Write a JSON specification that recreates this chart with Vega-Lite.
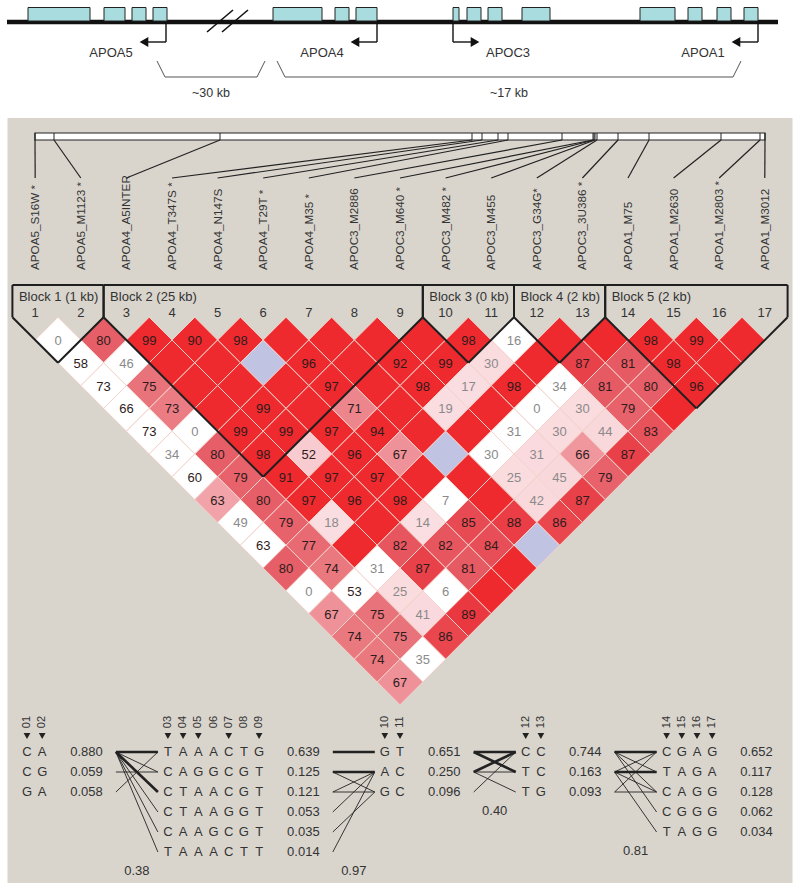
{
"$schema": "https://vega.github.io/schema/vega-lite/v6.json",
"padding": 0,
"background": "#ffffff",
"spacing": 6,
"center": true,
"config": {"view": {"stroke": null}, "text": {"font": "Liberation Sans"}},
"datasets": {
 "exons": [
  {"gene":"APOA5","start":28,"end":90},{"gene":"APOA5","start":104,"end":125},{"gene":"APOA5","start":132,"end":146},{"gene":"APOA5","start":153,"end":167},
  {"gene":"APOA4","start":273,"end":322},{"gene":"APOA4","start":335,"end":349},{"gene":"APOA4","start":356,"end":377},
  {"gene":"APOC3","start":453,"end":459},{"gene":"APOC3","start":467,"end":481},{"gene":"APOC3","start":488,"end":502},{"gene":"APOC3","start":522,"end":550},
  {"gene":"APOA1","start":640,"end":675},{"gene":"APOA1","start":688,"end":702},{"gene":"APOA1","start":717,"end":731},{"gene":"APOA1","start":744,"end":758}
 ],
 "genes": [
  {"gene":"APOA5","tss":166,"dir":-1},{"gene":"APOA4","tss":377,"dir":-1},{"gene":"APOC3","tss":453,"dir":1},{"gene":"APOA1","tss":758,"dir":-1}
 ],
 "brackets": [
  {"label":"~30 kb","from":157,"to":265},{"label":"~17 kb","from":277,"to":741}
 ],
 "markers": [
  {"m":1,"name":"APOA5_S16W *","bpos":35,"block":1,"tag":1},
  {"m":2,"name":"APOA5_M1123 *","bpos":54,"block":1,"tag":1},
  {"m":3,"name":"APOA4_A5INTER","bpos":220,"block":2,"tag":1},
  {"m":4,"name":"APOA4_T347S *","bpos":472,"block":2,"tag":1},
  {"m":5,"name":"APOA4_N147S","bpos":482,"block":2,"tag":1},
  {"m":6,"name":"APOA4_T29T *","bpos":498,"block":2,"tag":0},
  {"m":7,"name":"APOA4_M35 *","bpos":508,"block":2,"tag":1},
  {"m":8,"name":"APOC3_M2886","bpos":562,"block":2,"tag":0},
  {"m":9,"name":"APOC3_M640 *","bpos":593,"block":2,"tag":1},
  {"m":10,"name":"APOC3_M482 *","bpos":594,"block":3,"tag":1},
  {"m":11,"name":"APOC3_M455","bpos":595,"block":3,"tag":1},
  {"m":12,"name":"APOC3_G34G*","bpos":597,"block":4,"tag":1},
  {"m":13,"name":"APOC3_3U386 *","bpos":618,"block":4,"tag":1},
  {"m":14,"name":"APOA1_M75","bpos":649,"block":5,"tag":1},
  {"m":15,"name":"APOA1_M2630","bpos":721,"block":5,"tag":1},
  {"m":16,"name":"APOA1_M2803 *","bpos":760,"block":5,"tag":1},
  {"m":17,"name":"APOA1_M3012","bpos":765,"block":5,"tag":1}
 ],
 "blocks": [
  {"block":1,"first":1,"last":2,"kb":1},{"block":2,"first":3,"last":9,"kb":25},{"block":3,"first":10,"last":11,"kb":0},{"block":4,"first":12,"last":13,"kb":2},{"block":5,"first":14,"last":17,"kb":2}
 ],
 "ld": [
  {"i":1,"j":2,"v":0,"s":0},{"i":2,"j":3,"v":80,"s":1},{"i":3,"j":4,"v":99,"s":1},{"i":4,"j":5,"v":90,"s":1},{"i":5,"j":6,"v":98,"s":1},{"i":6,"j":7,"v":100,"s":1},{"i":7,"j":8,"v":100,"s":1},{"i":8,"j":9,"v":100,"s":1},{"i":9,"j":10,"v":100,"s":1},{"i":10,"j":11,"v":98,"s":1},{"i":11,"j":12,"v":16,"s":0},{"i":12,"j":13,"v":100,"s":1},{"i":13,"j":14,"v":100,"s":1},{"i":14,"j":15,"v":98,"s":1},{"i":15,"j":16,"v":99,"s":1},{"i":16,"j":17,"v":100,"s":1},
  {"i":1,"j":3,"v":58,"s":0},{"i":2,"j":4,"v":46,"s":0},{"i":3,"j":5,"v":100,"s":1},{"i":4,"j":6,"v":100,"s":1},{"i":5,"j":7,"v":100,"s":0},{"i":6,"j":8,"v":96,"s":1},{"i":7,"j":9,"v":100,"s":1},{"i":8,"j":10,"v":92,"s":1},{"i":9,"j":11,"v":99,"s":1},{"i":10,"j":12,"v":30,"s":1},{"i":11,"j":13,"v":100,"s":1},{"i":12,"j":14,"v":87,"s":1},{"i":13,"j":15,"v":81,"s":1},{"i":14,"j":16,"v":98,"s":1},{"i":15,"j":17,"v":100,"s":1},
  {"i":1,"j":4,"v":73,"s":0},{"i":2,"j":5,"v":75,"s":1},{"i":3,"j":6,"v":100,"s":1},{"i":4,"j":7,"v":100,"s":1},{"i":5,"j":8,"v":100,"s":1},{"i":6,"j":9,"v":97,"s":1},{"i":7,"j":10,"v":100,"s":1},{"i":8,"j":11,"v":98,"s":1},{"i":9,"j":12,"v":17,"s":1},{"i":10,"j":13,"v":98,"s":1},{"i":11,"j":14,"v":34,"s":0},{"i":12,"j":15,"v":81,"s":1},{"i":13,"j":16,"v":80,"s":1},{"i":14,"j":17,"v":96,"s":1},
  {"i":1,"j":5,"v":66,"s":0},{"i":2,"j":6,"v":73,"s":1},{"i":3,"j":7,"v":100,"s":1},{"i":4,"j":8,"v":99,"s":1},{"i":5,"j":9,"v":100,"s":1},{"i":6,"j":10,"v":71,"s":1},{"i":7,"j":11,"v":100,"s":1},{"i":8,"j":12,"v":19,"s":1},{"i":9,"j":13,"v":100,"s":1},{"i":10,"j":14,"v":0,"s":0},{"i":11,"j":15,"v":30,"s":1},{"i":12,"j":16,"v":79,"s":1},{"i":13,"j":17,"v":100,"s":1},
  {"i":1,"j":6,"v":73,"s":0},{"i":2,"j":7,"v":0,"s":0},{"i":3,"j":8,"v":99,"s":1},{"i":4,"j":9,"v":99,"s":1},{"i":5,"j":10,"v":97,"s":1},{"i":6,"j":11,"v":94,"s":1},{"i":7,"j":12,"v":100,"s":1},{"i":8,"j":13,"v":100,"s":1},{"i":9,"j":14,"v":31,"s":0},{"i":10,"j":15,"v":30,"s":1},{"i":11,"j":16,"v":44,"s":1},{"i":12,"j":17,"v":83,"s":1},
  {"i":1,"j":7,"v":34,"s":0},{"i":2,"j":8,"v":80,"s":1},{"i":3,"j":9,"v":98,"s":1},{"i":4,"j":10,"v":52,"s":1},{"i":5,"j":11,"v":96,"s":1},{"i":6,"j":12,"v":67,"s":1},{"i":7,"j":13,"v":100,"s":0},{"i":8,"j":14,"v":30,"s":0},{"i":9,"j":15,"v":31,"s":1},{"i":10,"j":16,"v":66,"s":1},{"i":11,"j":17,"v":87,"s":1},
  {"i":1,"j":8,"v":60,"s":0},{"i":2,"j":9,"v":79,"s":1},{"i":3,"j":10,"v":91,"s":1},{"i":4,"j":11,"v":97,"s":1},{"i":5,"j":12,"v":97,"s":1},{"i":6,"j":13,"v":100,"s":1},{"i":7,"j":14,"v":100,"s":1},{"i":8,"j":15,"v":25,"s":1},{"i":9,"j":16,"v":45,"s":1},{"i":10,"j":17,"v":79,"s":1},
  {"i":1,"j":9,"v":63,"s":1},{"i":2,"j":10,"v":80,"s":1},{"i":3,"j":11,"v":97,"s":1},{"i":4,"j":12,"v":96,"s":1},{"i":5,"j":13,"v":98,"s":1},{"i":6,"j":14,"v":7,"s":0},{"i":7,"j":15,"v":100,"s":1},{"i":8,"j":16,"v":42,"s":1},{"i":9,"j":17,"v":87,"s":1},
  {"i":1,"j":10,"v":49,"s":0},{"i":2,"j":11,"v":79,"s":1},{"i":3,"j":12,"v":18,"s":1},{"i":4,"j":13,"v":100,"s":1},{"i":5,"j":14,"v":14,"s":1},{"i":6,"j":15,"v":85,"s":1},{"i":7,"j":16,"v":88,"s":1},{"i":8,"j":17,"v":86,"s":1},
  {"i":1,"j":11,"v":63,"s":0},{"i":2,"j":12,"v":77,"s":1},{"i":3,"j":13,"v":100,"s":1},{"i":4,"j":14,"v":82,"s":1},{"i":5,"j":15,"v":82,"s":1},{"i":6,"j":16,"v":84,"s":1},{"i":7,"j":17,"v":100,"s":0},
  {"i":1,"j":12,"v":80,"s":1},{"i":2,"j":13,"v":74,"s":1},{"i":3,"j":14,"v":31,"s":0},{"i":4,"j":15,"v":87,"s":1},{"i":5,"j":16,"v":81,"s":1},{"i":6,"j":17,"v":100,"s":1},
  {"i":1,"j":13,"v":0,"s":0},{"i":2,"j":14,"v":53,"s":0},{"i":3,"j":15,"v":25,"s":1},{"i":4,"j":16,"v":6,"s":0},{"i":5,"j":17,"v":100,"s":1},
  {"i":1,"j":14,"v":67,"s":1},{"i":2,"j":15,"v":75,"s":1},{"i":3,"j":16,"v":41,"s":1},{"i":4,"j":17,"v":89,"s":1},
  {"i":1,"j":15,"v":74,"s":1},{"i":2,"j":16,"v":75,"s":1},{"i":3,"j":17,"v":86,"s":1},
  {"i":1,"j":16,"v":74,"s":1},{"i":2,"j":17,"v":35,"s":0},
  {"i":1,"j":17,"v":67,"s":1}
 ],
 "haps": [
  {"block":1,"r":1,"hap":"CA","freq":0.880},{"block":1,"r":2,"hap":"CG","freq":0.059},{"block":1,"r":3,"hap":"GA","freq":0.058},
  {"block":2,"r":1,"hap":"TAAACTG","freq":0.639},{"block":2,"r":2,"hap":"CAGGCGT","freq":0.125},{"block":2,"r":3,"hap":"CTAACGT","freq":0.121},{"block":2,"r":4,"hap":"CTAAGGT","freq":0.053},{"block":2,"r":5,"hap":"CAAGCGT","freq":0.035},{"block":2,"r":6,"hap":"TAAACTT","freq":0.014},
  {"block":3,"r":1,"hap":"GT","freq":0.651},{"block":3,"r":2,"hap":"AC","freq":0.250},{"block":3,"r":3,"hap":"GC","freq":0.096},
  {"block":4,"r":1,"hap":"CC","freq":0.744},{"block":4,"r":2,"hap":"TC","freq":0.163},{"block":4,"r":3,"hap":"TG","freq":0.093},
  {"block":5,"r":1,"hap":"CGAG","freq":0.652},{"block":5,"r":2,"hap":"TAGA","freq":0.117},{"block":5,"r":3,"hap":"CAGG","freq":0.128},{"block":5,"r":4,"hap":"CGGG","freq":0.062},{"block":5,"r":5,"hap":"TAGG","freq":0.034}
 ],
 "links": [
  {"b":1,"f":1,"t":1,"w":"thick"},{"b":1,"f":1,"t":2,"w":"thin"},{"b":1,"f":1,"t":3,"w":"thick"},{"b":1,"f":1,"t":4,"w":"thin"},{"b":1,"f":1,"t":5,"w":"thin"},{"b":1,"f":1,"t":6,"w":"thin"},{"b":1,"f":2,"t":2,"w":"thin"},{"b":1,"f":3,"t":1,"w":"thin"},
  {"b":2,"f":1,"t":1,"w":"thick"},{"b":2,"f":2,"t":2,"w":"thick"},{"b":2,"f":3,"t":2,"w":"thin"},{"b":2,"f":3,"t":3,"w":"thin"},{"b":2,"f":4,"t":2,"w":"thin"},{"b":2,"f":5,"t":3,"w":"thin"},{"b":2,"f":6,"t":2,"w":"thin"},{"b":2,"f":2,"t":3,"w":"thin"},
  {"b":3,"f":1,"t":1,"w":"thick"},{"b":3,"f":1,"t":2,"w":"thick"},{"b":3,"f":2,"t":1,"w":"thick"},{"b":3,"f":2,"t":2,"w":"thin"},{"b":3,"f":2,"t":3,"w":"thin"},{"b":3,"f":3,"t":1,"w":"thin"},
  {"b":4,"f":1,"t":1,"w":"thick"},{"b":4,"f":2,"t":2,"w":"thick"},{"b":4,"f":1,"t":2,"w":"thin"},{"b":4,"f":1,"t":3,"w":"thin"},{"b":4,"f":1,"t":4,"w":"thin"},{"b":4,"f":2,"t":1,"w":"thin"},{"b":4,"f":2,"t":5,"w":"thin"},{"b":4,"f":3,"t":1,"w":"thin"},{"b":4,"f":3,"t":3,"w":"thin"},{"b":4,"f":2,"t":3,"w":"thin"}
 ],
 "mdp": [
  {"b":1,"dp":"0.38","rows":6},{"b":2,"dp":"0.97","rows":6},{"b":3,"dp":"0.40","rows":3},{"b":4,"dp":"0.81","rows":5}
 ]
},
"vconcat": [
 {
  "width": 800, "height": 112,
  "view": {"fill": "#ffffff", "stroke": null},
  "encoding": {
   "x": {"field": "px", "type": "quantitative", "scale": {"domain": [0, 800], "nice": false, "zero": false}, "axis": null},
   "y": {"field": "py", "type": "quantitative", "scale": {"domain": [0, 112], "nice": false, "zero": false, "reverse": true}, "axis": null}
  },
  "layer": [
   {"data": {"values": [{"seg": "chromosome", "start": 7, "end": 778}]},
    "transform": [{"calculate": "datum.start", "as": "px"}, {"calculate": "datum.end", "as": "px2"}, {"calculate": "22", "as": "py"}, {"calculate": "22", "as": "py2"}],
    "mark": {"type": "rule", "color": "#111111", "strokeWidth": 4.5},
    "encoding": {"x2": {"field": "px2"}, "y2": {"field": "py2"}}},
   {"data": {"values": [{"k": 1, "at": 207}, {"k": 2, "at": 222}]},
    "transform": [{"calculate": "datum.at", "as": "px"}, {"calculate": "datum.at + 26", "as": "px2"}, {"calculate": "32", "as": "py"}, {"calculate": "10", "as": "py2"}],
    "mark": {"type": "rule", "color": "#111111", "strokeWidth": 1.6},
    "encoding": {"x2": {"field": "px2"}, "y2": {"field": "py2"}}},
   {"data": {"name": "exons"},
    "transform": [{"calculate": "datum.start", "as": "px"}, {"calculate": "datum.end", "as": "px2"}, {"calculate": "7.5", "as": "py"}, {"calculate": "21", "as": "py2"}],
    "mark": {"type": "rect", "fill": "#a9dcdf", "stroke": "#222222", "strokeWidth": 1},
    "encoding": {"x2": {"field": "px2"}, "y2": {"field": "py2"}}},
   {"data": {"name": "genes"},
    "transform": [{"calculate": "datum.tss", "as": "px"}, {"calculate": "datum.tss", "as": "px2"}, {"calculate": "22", "as": "py"}, {"calculate": "42", "as": "py2"}],
    "mark": {"type": "rule", "color": "#111111", "strokeWidth": 1.4},
    "encoding": {"x2": {"field": "px2"}, "y2": {"field": "py2"}}},
   {"data": {"name": "genes"},
    "transform": [{"calculate": "datum.tss", "as": "px"}, {"calculate": "datum.tss + datum.dir*19", "as": "px2"}, {"calculate": "42", "as": "py"}, {"calculate": "42", "as": "py2"}],
    "mark": {"type": "rule", "color": "#111111", "strokeWidth": 1.4},
    "encoding": {"x2": {"field": "px2"}, "y2": {"field": "py2"}}},
   {"data": {"name": "genes"},
    "transform": [{"calculate": "datum.tss + datum.dir*22", "as": "px"}, {"calculate": "42", "as": "py"}, {"calculate": "datum.dir < 0 ? 'L' : 'R'", "as": "dirn"}],
    "mark": {"type": "point", "filled": true, "opacity": 1, "size": 100, "color": "#111111"},
    "encoding": {"shape": {"field": "dirn", "type": "nominal", "scale": {"domain": ["L", "R"], "range": ["triangle-left", "triangle-right"]}, "legend": null}}},
   {"data": {"name": "genes"},
    "transform": [{"calculate": "datum.tss + datum.dir*55", "as": "px"}, {"calculate": "53", "as": "py"}],
    "mark": {"type": "text", "fontSize": 13, "font": "Liberation Sans", "color": "#333333", "baseline": "middle", "align": "center"},
    "encoding": {"text": {"field": "gene"}}},
   {"data": {"name": "brackets"},
    "transform": [{"calculate": "datum.from", "as": "px"}, {"calculate": "datum.from + 8", "as": "px2"}, {"calculate": "61", "as": "py"}, {"calculate": "77", "as": "py2"}],
    "mark": {"type": "rule", "color": "#555555", "strokeWidth": 1},
    "encoding": {"x2": {"field": "px2"}, "y2": {"field": "py2"}}},
   {"data": {"name": "brackets"},
    "transform": [{"calculate": "datum.from + 8", "as": "px"}, {"calculate": "datum.to - 8", "as": "px2"}, {"calculate": "77", "as": "py"}, {"calculate": "77", "as": "py2"}],
    "mark": {"type": "rule", "color": "#555555", "strokeWidth": 1},
    "encoding": {"x2": {"field": "px2"}, "y2": {"field": "py2"}}},
   {"data": {"name": "brackets"},
    "transform": [{"calculate": "datum.to - 8", "as": "px"}, {"calculate": "datum.to", "as": "px2"}, {"calculate": "77", "as": "py"}, {"calculate": "61", "as": "py2"}],
    "mark": {"type": "rule", "color": "#555555", "strokeWidth": 1},
    "encoding": {"x2": {"field": "px2"}, "y2": {"field": "py2"}}},
   {"data": {"name": "brackets"},
    "transform": [{"calculate": "(datum.from + datum.to)/2", "as": "px"}, {"calculate": "93", "as": "py"}],
    "mark": {"type": "text", "fontSize": 12.5, "font": "Liberation Sans", "color": "#333333", "baseline": "middle", "align": "center"},
    "encoding": {"text": {"field": "label"}}}
  ]
 },
 {
  "width": 785, "height": 765,
  "view": {"fill": "#d9d5cd", "stroke": null},
  "encoding": {
   "x": {"field": "px", "type": "quantitative", "scale": {"domain": [7.5, 792.5], "nice": false, "zero": false}, "axis": null},
   "y": {"field": "py", "type": "quantitative", "scale": {"domain": [118, 883], "nice": false, "zero": false, "reverse": true}, "axis": null}
  },
  "layer": [
   {"data": {"name": "markers"},
    "transform": [{"aggregate": [{"op": "min", "field": "bpos", "as": "lo"}, {"op": "max", "field": "bpos", "as": "hi"}]}, {"calculate": "datum.lo", "as": "px"}, {"calculate": "datum.hi", "as": "px2"}, {"calculate": "133", "as": "py"}, {"calculate": "140", "as": "py2"}],
    "mark": {"type": "rect", "fill": "#ffffff", "stroke": "#222222", "strokeWidth": 1.2},
    "encoding": {"x2": {"field": "px2"}, "y2": {"field": "py2"}}},
   {"data": {"name": "markers"},
    "transform": [{"calculate": "datum.bpos", "as": "px"}, {"calculate": "datum.bpos", "as": "px2"}, {"calculate": "133", "as": "py"}, {"calculate": "140", "as": "py2"}],
    "mark": {"type": "rule", "color": "#222222", "strokeWidth": 1},
    "encoding": {"x2": {"field": "px2"}, "y2": {"field": "py2"}}},
   {"data": {"name": "markers"},
    "transform": [{"calculate": "datum.bpos", "as": "px"}, {"calculate": "35.2 + 45.6*(datum.m - 1)", "as": "px2"}, {"calculate": "140", "as": "py"}, {"calculate": "178", "as": "py2"}],
    "mark": {"type": "rule", "color": "#222222", "strokeWidth": 1.2},
    "encoding": {"x2": {"field": "px2"}, "y2": {"field": "py2"}}},
   {"data": {"name": "markers"},
    "transform": [{"calculate": "35.2 + 45.6*(datum.m - 1)", "as": "px"}, {"calculate": "270", "as": "py"}],
    "mark": {"type": "text", "angle": 270, "align": "left", "baseline": "middle", "fontSize": 11.7, "font": "Liberation Sans", "color": "#333333"},
    "encoding": {"text": {"field": "name"}}},
   {"data": {"name": "ld"},
    "transform": [{"calculate": "35.2 + 22.8*(datum.i + datum.j - 2)", "as": "px"}, {"calculate": "340 + 22.8*(datum.j - datum.i - 1)", "as": "py"}],
    "mark": {"type": "point", "shape": "diamond", "size": 2079, "filled": true, "opacity": 1, "stroke": "#f3d3cb", "strokeWidth": 1},
    "encoding": {"fill": {
      "condition": [{"test": "datum.s == 0 && datum.v == 100", "value": "#c1c3e2"}, {"test": "datum.s == 0", "value": "#ffffff"}],
      "field": "v", "type": "quantitative",
      "scale": {"domain": [0, 45, 52, 63, 67, 71, 75, 80, 85, 89, 90, 100], "range": ["#fbe0e3", "#f9d8dc", "#f7cbd0", "#f2a3aa", "#ef9198", "#ec858c", "#e9737b", "#e65e67", "#e84a53", "#ea3840", "#ee2a2f", "#ee2a2f"], "interpolate": "rgb", "zero": false, "nice": false},
      "legend": null}}},
   {"data": {"name": "ld"},
    "transform": [{"filter": "datum.v < 100"}, {"calculate": "35.2 + 22.8*(datum.i + datum.j - 2)", "as": "px"}, {"calculate": "340 + 22.8*(datum.j - datum.i - 1)", "as": "py"}],
    "mark": {"type": "text", "fontSize": 13, "font": "Liberation Sans", "baseline": "middle", "align": "center", "dy": 1},
    "encoding": {"text": {"field": "v", "type": "quantitative"},
      "color": {"condition": {"test": "datum.v < 50", "value": "#8a8a8a"}, "value": "#2e1c1c"}}},
   {"data": {"name": "blocks"},
    "transform": [{"calculate": "35.2 + 45.6*(datum.first - 1)", "as": "mf"}, {"calculate": "35.2 + 45.6*(datum.last - 1)", "as": "ml"}, {"calculate": "datum.mf - 22.8", "as": "px"}, {"calculate": "317.2", "as": "py"}, {"calculate": "(datum.mf + datum.ml)/2", "as": "px2"}, {"calculate": "340 + 22.8*(datum.last - datum.first)", "as": "py2"}],
    "mark": {"type": "rule", "color": "#1e1e1e", "strokeWidth": 2},
    "encoding": {"x2": {"field": "px2"}, "y2": {"field": "py2"}}},
   {"data": {"name": "blocks"},
    "transform": [{"calculate": "35.2 + 45.6*(datum.first - 1)", "as": "mf"}, {"calculate": "35.2 + 45.6*(datum.last - 1)", "as": "ml"}, {"calculate": "datum.ml + 22.8", "as": "px"}, {"calculate": "317.2", "as": "py"}, {"calculate": "(datum.mf + datum.ml)/2", "as": "px2"}, {"calculate": "340 + 22.8*(datum.last - datum.first)", "as": "py2"}],
    "mark": {"type": "rule", "color": "#1e1e1e", "strokeWidth": 2},
    "encoding": {"x2": {"field": "px2"}, "y2": {"field": "py2"}}},
   {"data": {"name": "blocks"},
    "transform": [{"calculate": "35.2 + 45.6*(datum.first - 1) - 22.8", "as": "px"}, {"calculate": "datum.px", "as": "px2"}, {"calculate": "285", "as": "py"}, {"calculate": "317.2", "as": "py2"}],
    "mark": {"type": "rule", "color": "#1e1e1e", "strokeWidth": 2},
    "encoding": {"x2": {"field": "px2"}, "y2": {"field": "py2"}}},
   {"data": {"name": "blocks"},
    "transform": [{"calculate": "35.2 + 45.6*(datum.last - 1) + 22.8", "as": "px"}, {"calculate": "datum.px", "as": "px2"}, {"calculate": "285", "as": "py"}, {"calculate": "317.2", "as": "py2"}],
    "mark": {"type": "rule", "color": "#1e1e1e", "strokeWidth": 2},
    "encoding": {"x2": {"field": "px2"}, "y2": {"field": "py2"}}},
   {"data": {"name": "blocks"},
    "transform": [{"calculate": "35.2 + 45.6*(datum.first - 1) - 22.8", "as": "px"}, {"calculate": "35.2 + 45.6*(datum.last - 1) + 22.8", "as": "px2"}, {"calculate": "285", "as": "py"}, {"calculate": "285", "as": "py2"}],
    "mark": {"type": "rule", "color": "#1e1e1e", "strokeWidth": 2},
    "encoding": {"x2": {"field": "px2"}, "y2": {"field": "py2"}}},
   {"data": {"name": "blocks"},
    "transform": [{"calculate": "35.2 + 45.6*(datum.first - 1) - 22.8 + 6.5", "as": "px"}, {"calculate": "297", "as": "py"}, {"calculate": "'Block ' + datum.block + ' (' + datum.kb + ' kb)'", "as": "label"}],
    "mark": {"type": "text", "fontSize": 13, "font": "Liberation Sans", "align": "left", "baseline": "middle", "color": "#333333"},
    "encoding": {"text": {"field": "label"}}},
   {"data": {"name": "markers"},
    "transform": [{"calculate": "35.2 + 45.6*(datum.m - 1)", "as": "px"}, {"calculate": "313", "as": "py"}],
    "mark": {"type": "text", "fontSize": 13, "font": "Liberation Sans", "align": "center", "baseline": "middle", "color": "#333333"},
    "encoding": {"text": {"field": "m", "type": "quantitative"}}},
   {"data": {"name": "markers"},
    "transform": [{"calculate": "27 + 15.2*(datum.m - 1) + 110.5*(datum.block - 1)", "as": "px"}, {"calculate": "722", "as": "py"}, {"calculate": "(datum.m < 10 ? '0' : '') + datum.m", "as": "lab"}],
    "mark": {"type": "text", "angle": 270, "fontSize": 11, "font": "Liberation Sans", "align": "center", "baseline": "middle", "color": "#333333"},
    "encoding": {"text": {"field": "lab"}}},
   {"data": {"name": "markers"},
    "transform": [{"filter": "datum.tag == 1"}, {"calculate": "27 + 15.2*(datum.m - 1) + 110.5*(datum.block - 1)", "as": "px"}, {"calculate": "736", "as": "py"}],
    "mark": {"type": "point", "shape": "triangle-down", "size": 45, "filled": true, "opacity": 1, "color": "#222222"}},
   {"data": {"name": "haps"},
    "transform": [
     {"lookup": "block", "from": {"data": {"name": "blocks"}, "key": "block", "fields": ["first"]}},
     {"calculate": "split(datum.hap, '')", "as": "letters"},
     {"flatten": ["letters"], "as": ["letter"]},
     {"window": [{"op": "row_number", "as": "idx"}], "groupby": ["block", "r"]},
     {"calculate": "27 + 15.2*(datum.first - 1) + 110.5*(datum.block - 1) + 15.2*(datum.idx - 1)", "as": "px"},
     {"calculate": "752 + 20*(datum.r - 1)", "as": "py"}],
    "mark": {"type": "text", "fontSize": 13, "font": "Liberation Sans", "align": "center", "baseline": "middle", "color": "#333333"},
    "encoding": {"text": {"field": "letter"}}},
   {"data": {"name": "haps"},
    "transform": [
     {"lookup": "block", "from": {"data": {"name": "blocks"}, "key": "block", "fields": ["first"]}},
     {"calculate": "27 + 15.2*(datum.first - 1) + 110.5*(datum.block - 1) + 15.2*(length(datum.hap) - 1) + 28", "as": "px"},
     {"calculate": "752 + 20*(datum.r - 1)", "as": "py"}],
    "mark": {"type": "text", "fontSize": 13, "font": "Liberation Sans", "align": "left", "baseline": "middle", "color": "#333333"},
    "encoding": {"text": {"field": "freq", "type": "quantitative", "format": ".3f"}}},
   {"data": {"name": "links"},
    "transform": [
     {"calculate": "datum.b + 1", "as": "nb"},
     {"lookup": "nb", "from": {"data": {"name": "blocks"}, "key": "block", "fields": ["first"]}, "as": ["nfirst"]},
     {"calculate": "27 + 15.2*(datum.nfirst - 1) + 110.5*datum.b", "as": "nbase"},
     {"calculate": "datum.nbase - 52", "as": "px"},
     {"calculate": "datum.nbase - 10", "as": "px2"},
     {"calculate": "752 + 20*(datum.f - 1)", "as": "py"},
     {"calculate": "752 + 20*(datum.t - 1)", "as": "py2"}],
    "mark": {"type": "rule", "color": "#222222"},
    "encoding": {"x2": {"field": "px2"}, "y2": {"field": "py2"},
      "strokeWidth": {"field": "w", "type": "nominal", "scale": {"domain": ["thick", "thin"], "range": [2.6, 0.9]}, "legend": null}}},
   {"data": {"name": "mdp"},
    "transform": [
     {"calculate": "datum.b + 1", "as": "nb"},
     {"lookup": "nb", "from": {"data": {"name": "blocks"}, "key": "block", "fields": ["first"]}, "as": ["nfirst"]},
     {"calculate": "27 + 15.2*(datum.nfirst - 1) + 110.5*datum.b - 31", "as": "px"},
     {"calculate": "752 + 20*datum.rows - 1", "as": "py"}],
    "mark": {"type": "text", "fontSize": 13, "font": "Liberation Sans", "align": "center", "baseline": "middle", "color": "#333333"},
    "encoding": {"text": {"field": "dp"}}}
  ]
 }
]
}
